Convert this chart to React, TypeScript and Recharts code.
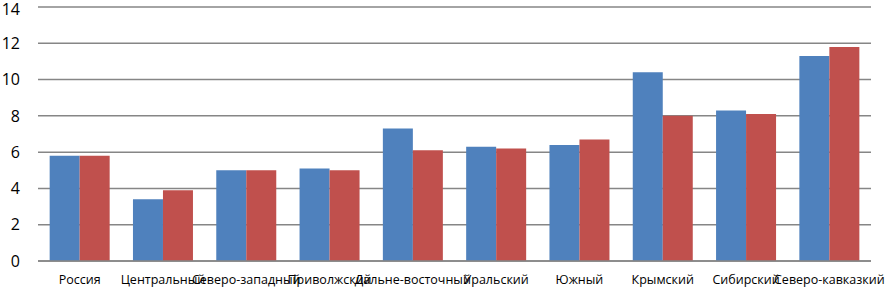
import React from 'react';
import { BarChart, Bar, XAxis, YAxis, CartesianGrid } from 'recharts';

const regions = [
  'Россия',
  'Центральный',
  'Северо-западный',
  'Приволжский',
  'Дальне-восточный',
  'Уральский',
  'Южный',
  'Крымский',
  'Сибирский',
  'Северо-кавказкий',
];
const seriesA = [5.8, 3.4, 5.0, 5.1, 7.3, 6.3, 6.4, 10.4, 8.3, 11.3];
const seriesB = [5.8, 3.9, 5.0, 5.0, 6.1, 6.2, 6.7, 8.0, 8.1, 11.8];
const yTicks = [0, 2, 4, 6, 8, 10, 12, 14];

const data = regions.map((name, i) => ({ name, a: seriesA[i], b: seriesB[i] }));

export default function App() {
  return (
    <div style={{ position: 'absolute', left: 0, top: 0, background: '#fff' }}>
      <BarChart
        width={885}
        height={288}
        data={data}
        margin={{ top: 7, right: 14, bottom: 0, left: 0 }}
        barGap={0}
        barCategoryGap="14%"
      >
        <CartesianGrid vertical={false} stroke="#868686" strokeWidth={1.5} />
        <XAxis
          dataKey="name"
          height={27}
          interval={0}
          tickLine={false}
          axisLine={{ stroke: '#868686', strokeWidth: 1.5 }}
          tick={{ fill: '#000', fontSize: 12.5, fontFamily: 'Open Sans' }}
          tickMargin={8}
        />
        <YAxis
          width={38}
          domain={[0, 14]}
          ticks={yTicks}
          axisLine={false}
          tickLine={false}
          tickSize={0}
          tickMargin={18}
          tick={{ fill: '#000', fontSize: 16, fontFamily: 'Open Sans' }}
        />
        <Bar dataKey="a" fill="#4F81BD" isAnimationActive={false} />
        <Bar dataKey="b" fill="#C0504D" isAnimationActive={false} />
      </BarChart>
    </div>
  );
}
